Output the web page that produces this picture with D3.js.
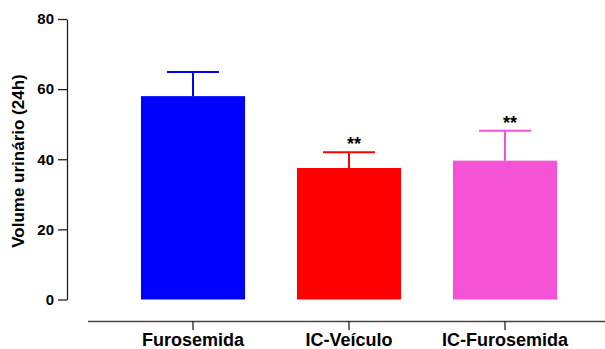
<!DOCTYPE html>
<html>
<head>
<meta charset="utf-8">
<script src="https://cdn.jsdelivr.net/npm/d3@7"></script>
<style>
  body { margin: 0; background: #fff; }
  text { font-family: "Liberation Sans", Arial, sans-serif; font-weight: bold; fill: #000; }
</style>
</head>
<body>
<div id="chart"></div>
<script>
// data
const groups = ["Furosemida", "IC-Veículo", "IC-Furosemida"];
const means = [58, 37.5, 39.6];
const errors = [6.9, 4.5, 8.5];
const signif = ["", "**", "**"];
const colors = ["#0000ff", "#ff0000", "#f552d6"];
const yTicks = [0, 20, 40, 60, 80];

const width = 605, height = 349;

const svg = d3.select("#chart").append("svg")
  .attr("width", width)
  .attr("height", height);

const y = d3.scaleLinear().domain([0, 80]).range([299.5, 19]);
const x = d3.scaleBand().domain(groups).range([115, 583]).paddingInner(0.333).paddingOuter(0.1665);

// y axis
const yAxis = svg.append("g")
  .attr("transform", "translate(67,0)")
  .call(d3.axisLeft(y).tickValues(yTicks).tickSize(9).tickPadding(4).tickSizeOuter(0));
yAxis.select(".domain").attr("stroke", "#222").attr("stroke-width", 1.3);
yAxis.selectAll(".tick line").attr("stroke", "#222").attr("stroke-width", 1.3);
yAxis.selectAll("text").style("font-size", "15px").style("font-family", "Liberation Sans, Arial, sans-serif").style("font-weight", "bold").attr("fill", "#000");

// x axis
const xAxis = svg.append("g")
  .attr("transform", "translate(0,321)")
  .call(d3.axisBottom(x).tickSize(9).tickPadding(3).tickSizeOuter(0));
xAxis.select(".domain").attr("d", "M88,0.5H605").attr("stroke", "#444").attr("stroke-width", 1.3);
xAxis.selectAll(".tick line").attr("stroke", "#222").attr("stroke-width", 1.3);
xAxis.selectAll("text").style("font-size", "18px").style("font-family", "Liberation Sans, Arial, sans-serif").style("font-weight", "bold").attr("fill", "#000");

// y title
svg.append("text")
  .attr("transform", "translate(24,161) rotate(-90)")
  .attr("text-anchor", "middle")
  .style("font-size", "17px")
  .text("Volume urinário (24h)");

// bars
svg.selectAll(".bar")
  .data(groups)
  .enter()
  .append("rect")
  .attr("class", "bar")
  .attr("x", (d) => x(d))
  .attr("width", x.bandwidth())
  .attr("y", (d, i) => y(means[i]))
  .attr("height", (d, i) => y(0) - y(means[i]))
  .attr("fill", (d, i) => colors[i]);

// error bars (upper only)
const bw = x.bandwidth();
groups.forEach((g, i) => {
  const cx = x(g) + bw / 2;
  const top = y(means[i] + errors[i]);
  svg.append("line")
    .attr("x1", cx).attr("x2", cx)
    .attr("y1", y(means[i])).attr("y2", top)
    .attr("stroke", colors[i]).attr("stroke-width", 2);
  svg.append("line")
    .attr("x1", cx - bw / 4).attr("x2", cx + bw / 4)
    .attr("y1", top).attr("y2", top)
    .attr("stroke", colors[i]).attr("stroke-width", 2);
  if (signif[i]) {
    svg.append("text")
      .attr("x", cx + 5)
      .attr("y", top - 2)
      .attr("text-anchor", "middle")
      .style("font-size", "18px")
      .text(signif[i]);
  }
});
</script>
</body>
</html>
